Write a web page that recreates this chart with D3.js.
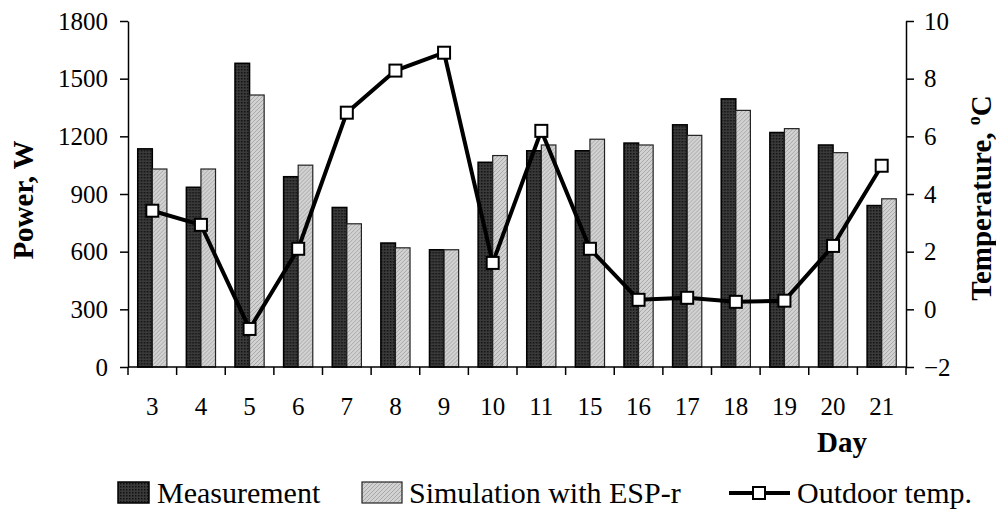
<!DOCTYPE html>
<html>
<head>
<meta charset="utf-8">
<script src="https://cdn.jsdelivr.net/npm/d3@7"></script>
<style>
  body { margin: 0; background: #fff; }
  svg { display: block; font-family: "Liberation Serif", "Times New Roman", serif; }
</style>
</head>
<body>
<div id="chart"></div>
<script>
// data
const days = ["3", "4", "5", "6", "7", "8", "9", "10", "11", "15", "16", "17", "18", "19", "20", "21"]
const measurement = [1135, 935, 1580, 990, 830, 645, 610, 1065, 1125, 1125, 1165, 1260, 1395, 1220, 1155, 840]
const simulation = [1030, 1030, 1415, 1050, 745, 620, 610, 1100, 1155, 1185, 1155, 1205, 1335, 1240, 1115, 875]
const outdoorTemp = [3.42, 2.93, -0.68, 2.1, 6.82, 8.28, 8.9, 1.61, 6.19, 2.1, 0.33, 0.4, 0.26, 0.3, 2.2, 4.98]
const powerTicks = [0, 300, 600, 900, 1200, 1500, 1800]
const tempTicks = [-2, 0, 2, 4, 6, 8, 10]

const width = 996
const height = 509
const margin = {top: 21, right: 90, bottom: 142, left: 128}

const svg = d3.select("#chart")
  .append("svg")
    .attr("width", width)
    .attr("height", height)

// patterns for the bar fills
const defs = svg.append("defs")
const pDark = defs.append("pattern")
    .attr("id", "dark").attr("width", 3).attr("height", 3)
    .attr("patternUnits", "userSpaceOnUse")
pDark.append("rect").attr("width", 3).attr("height", 3).attr("fill", "#3a3a3a")
pDark.append("rect").attr("width", 1.5).attr("height", 1.5).attr("fill", "#111")

const pLight = defs.append("pattern")
    .attr("id", "light").attr("width", 4).attr("height", 4)
    .attr("patternUnits", "userSpaceOnUse")
pLight.append("rect").attr("width", 4).attr("height", 4).attr("fill", "#d2d2d2")
pLight.append("path").attr("d", "M0,4 L4,0 M-1,1 L1,-1 M3,5 L5,3")
    .attr("stroke", "#a8a8a8").attr("stroke-width", 1)

// scales
const x = d3.scaleBand()
  .domain(days)
  .range([margin.left, width - margin.right])
  .paddingInner(0.4)
  .paddingOuter(0.2)

const xSub = d3.scaleBand()
  .domain(["m", "s"])
  .range([0, x.bandwidth()])

const yL = d3.scaleLinear()
  .domain([0, 1800])
  .range([height - margin.bottom, margin.top])

const yR = d3.scaleLinear()
  .domain([-2, 10])
  .range([height - margin.bottom, margin.top])

// bars
const groups = svg.append("g")
  .selectAll("g")
  .data(days)
  .join("g")
    .attr("transform", d => `translate(${x(d)},0)`)

groups.append("rect")
    .attr("x", xSub("m"))
    .attr("width", xSub.bandwidth())
    .attr("y", (d, i) => yL(measurement[i]))
    .attr("height", (d, i) => yL(0) - yL(measurement[i]))
    .attr("fill", "url(#dark)")
    .attr("stroke", "#000")
    .attr("stroke-width", 1.5)

groups.append("rect")
    .attr("x", xSub("s"))
    .attr("width", xSub.bandwidth())
    .attr("y", (d, i) => yL(simulation[i]))
    .attr("height", (d, i) => yL(0) - yL(simulation[i]))
    .attr("fill", "url(#light)")
    .attr("stroke", "#222")
    .attr("stroke-width", 1.2)

// axes
svg.append("g")
    .attr("transform", `translate(${margin.left},0)`)
    .call(d3.axisLeft(yL).tickValues(powerTicks).tickFormat(d3.format("d"))
      .tickSize(8).tickPadding(12).tickSizeOuter(0))
svg.append("g")
    .attr("transform", `translate(${width - margin.right},0)`)
    .call(d3.axisRight(yR).tickValues(tempTicks).tickFormat(d3.format("d"))
      .tickSize(8).tickPadding(10).tickSizeOuter(0))

const step = x.step()
const boundaries = days.map(d => x(d) - step * x.paddingInner() / 2).concat([width - margin.right])
const xAxis = svg.append("g")
xAxis.append("line")
    .attr("x1", margin.left).attr("x2", width - margin.right)
    .attr("y1", yL(0)).attr("y2", yL(0))
    .attr("stroke", "#000").attr("stroke-width", 1.5)
xAxis.selectAll(".tk")
  .data(boundaries)
  .join("line")
    .attr("class", "tk")
    .attr("x1", d => d).attr("x2", d => d)
    .attr("y1", yL(0)).attr("y2", yL(0) + 8)
    .attr("stroke", "#000").attr("stroke-width", 1.5)
xAxis.selectAll("text")
  .data(days)
  .join("text")
    .attr("x", d => x(d) + x.bandwidth() / 2)
    .attr("y", 415)
    .attr("text-anchor", "middle")
    .style("font-size", "25px")
    .text(d => d)

svg.selectAll(".domain").attr("stroke", "#000").attr("stroke-width", 1.5)
svg.selectAll(".tick line").attr("stroke", "#000").attr("stroke-width", 1.5)
svg.selectAll(".tick text")
    .style("font-family", "'Liberation Serif', 'Times New Roman', serif")
    .style("font-size", "25px")
    .attr("fill", "#000")

// outdoor temperature line
const line = d3.line()
  .x((d, i) => x(days[i]) + x.bandwidth() / 2)
  .y(d => yR(d))

svg.append("path")
    .datum(outdoorTemp)
    .attr("d", line)
    .attr("fill", "none")
    .attr("stroke", "#000")
    .attr("stroke-width", 4)

svg.append("g")
  .selectAll("rect")
  .data(outdoorTemp)
  .join("rect")
    .attr("x", (d, i) => x(days[i]) + x.bandwidth() / 2 - 6)
    .attr("y", d => yR(d) - 6)
    .attr("width", 12)
    .attr("height", 12)
    .attr("fill", "#fff")
    .attr("stroke", "#000")
    .attr("stroke-width", 2)

// axis titles
svg.append("text")
    .attr("transform", "translate(33,200) rotate(-90)")
    .attr("text-anchor", "middle")
    .style("font-size", "29px")
    .style("font-weight", "bold")
    .text("Power, W")

const tTitle = svg.append("text")
    .attr("transform", "translate(991,198) rotate(-90)")
    .attr("text-anchor", "middle")
    .style("font-size", "29px")
    .style("font-weight", "bold")
tTitle.append("tspan").text("Temperature, ")
tTitle.append("tspan").attr("dy", -11).style("font-size", "18px").text("o")
tTitle.append("tspan").attr("dy", 11).text("C")

svg.append("text")
    .attr("x", 842)
    .attr("y", 452)
    .attr("text-anchor", "middle")
    .style("font-size", "29px")
    .style("font-weight", "bold")
    .text("Day")

// legend
const legend = svg.append("g")
legend.append("rect")
    .attr("x", 118).attr("y", 482).attr("width", 31).attr("height", 21)
    .attr("fill", "url(#dark)").attr("stroke", "#000").attr("stroke-width", 1.5)
legend.append("text")
    .attr("x", 157).attr("y", 503)
    .style("font-size", "30px")
    .text("Measurement")

legend.append("rect")
    .attr("x", 362).attr("y", 482).attr("width", 40).attr("height", 21)
    .attr("fill", "url(#light)").attr("stroke", "#222").attr("stroke-width", 1.2)
legend.append("text")
    .attr("x", 409).attr("y", 503)
    .style("font-size", "30px")
    .text("Simulation with ESP-r")

legend.append("line")
    .attr("x1", 729).attr("x2", 790).attr("y1", 493).attr("y2", 493)
    .attr("stroke", "#000").attr("stroke-width", 4)
legend.append("rect")
    .attr("x", 753).attr("y", 487).attr("width", 12).attr("height", 12)
    .attr("fill", "#fff").attr("stroke", "#000").attr("stroke-width", 2)
legend.append("text")
    .attr("x", 797).attr("y", 503)
    .style("font-size", "30px")
    .text("Outdoor temp.")
</script>
</body>
</html>
